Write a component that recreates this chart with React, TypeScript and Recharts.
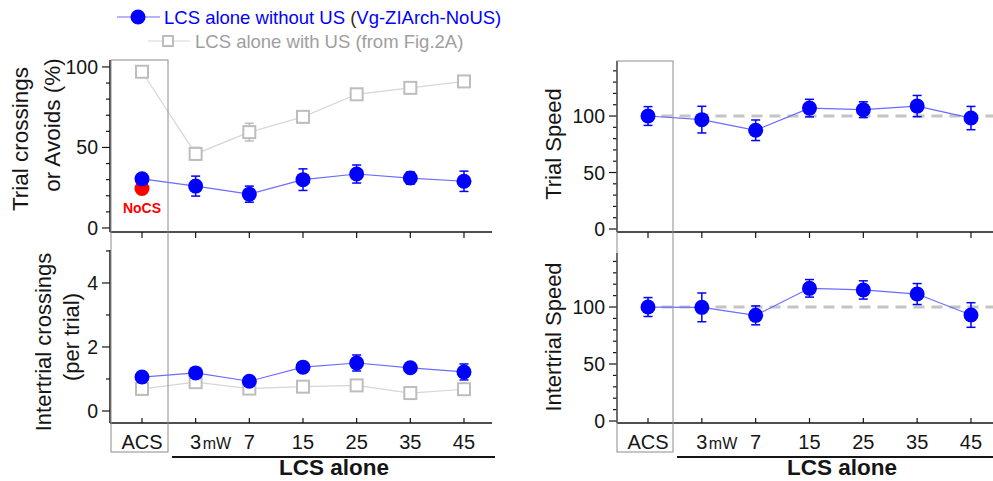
import React from "react";
import {
  ComposedChart,
  Line,
  XAxis,
  YAxis,
  ErrorBar,
  ReferenceLine,
  LabelList,
} from "recharts";

// categories along the x axis (ACS, then LCS alone at each laser power)
const categories = ["ACS", "3", "7", "15", "25", "35", "45"];
const tickUnits = ["", "mW", "", "", "", "", ""];
const xIndex = [0, 1, 2, 3, 4, 5, 6];

// Trial crossings or Avoids (%)
const trialNoUS = [30.5, 26, 21, 30, 33.5, 31, 29];
const trialNoUSErr = [3, 6.2, 5, 6.7, 5.6, 3.8, 6.3];
const trialWithUS = [97, 46, 59.5, 69, 83, 87, 91];
const trialWithUSErr = [2, 4, 5.5, 1.5, 1.5, 1.5, 1.5];
const noCSValue = 24.5;
const noCSErr = 3;

// Intertrial crossings (per trial)
const interNoUS = [1.06, 1.19, 0.93, 1.37, 1.5, 1.35, 1.22];
const interNoUSErr = [0.1, 0.15, 0.1, 0.1, 0.25, 0.1, 0.25];
const interWithUS = [0.69, 0.9, 0.7, 0.76, 0.8, 0.56, 0.68];
const interWithUSErr = [0.12, 0.1, 0.1, 0.12, 0.15, 0.12, 0.12];

// Trial Speed
const trialSpeed = [100, 96.8, 87.4, 107, 105.6, 108.8, 98.2];
const trialSpeedErr = [8.3, 11.8, 9.1, 7.8, 7, 9.4, 10.3];

// Intertrial Speed
const interSpeed = [100, 99.7, 92.7, 116.4, 115, 111.4, 93];
const interSpeedErr = [8.3, 12.6, 8.3, 7.7, 8, 9.2, 10.8];

const FONT = '"Liberation Sans", Arial, Helvetica, sans-serif';
const BLUE = "#0000ff";
const BLUE_LINE = "#6b6bff";
const GRAY = "#bdbdbd";
const GRAY_LINE = "#d6d6d6";
const RED = "#ff0000";
const INK = "#151515";

const LEFT_X: [number, number] = [-0.596, 6.522];
const RIGHT_X: [number, number] = [-0.576, 6.409];

const trialRows = xIndex.map((i) => ({
  x: i,
  noUS: trialNoUS[i],
  noUSErr: trialNoUSErr[i],
  withUS: trialWithUS[i],
  withUSErr: trialWithUSErr[i],
  noCS: i === 0 ? noCSValue : null,
  noCSErr: i === 0 ? noCSErr : null,
}));

const interRows = xIndex.map((i) => ({
  x: i,
  noUS: interNoUS[i],
  noUSErr: interNoUSErr[i],
  withUS: interWithUS[i],
  withUSErr: interWithUSErr[i],
}));

const trialSpeedRows = xIndex.map((i) => ({
  x: i,
  v: trialSpeed[i],
  e: trialSpeedErr[i],
}));

const interSpeedRows = xIndex.map((i) => ({
  x: i,
  v: interSpeed[i],
  e: interSpeedErr[i],
}));

function makeYTick(labelled: number[]) {
  return (props: any) => {
    const { x, y, payload } = props;
    const major = labelled.includes(payload.value);
    return (
      <g>
        <line x1={x} x2={x - (major ? 8 : 4)} y1={y} y2={y} stroke={INK} strokeWidth={1.2} />
        {major && (
          <text
            x={x - 12}
            y={y}
            textAnchor="end"
            dominantBaseline="central"
            fontSize={19.5}
            fontFamily={FONT}
            fill={INK}
          >
            {payload.value}
          </text>
        )}
      </g>
    );
  };
}

const TopTick = (props: any) => {
  const { x, y } = props;
  return <line x1={x} x2={x} y1={y} y2={y + 6} stroke={INK} strokeWidth={1.2} />;
};

const BottomTick = (props: any) => {
  const { x, y, payload } = props;
  const i = payload.value;
  return (
    <g>
      <line x1={x} x2={x} y1={y} y2={y - 5} stroke={INK} strokeWidth={1.2} />
      <text
        x={x}
        y={y + 19}
        textAnchor="middle"
        dominantBaseline="central"
        fontSize={20}
        fontFamily={FONT}
        fill={INK}
      >
        {categories[i]}
      </text>
      {tickUnits[i] && (
        <text
          x={x + 7}
          y={y + 20}
          textAnchor="start"
          dominantBaseline="central"
          fontSize={16}
          fontFamily={FONT}
          fill={INK}
        >
          {tickUnits[i]}
        </text>
      )}
    </g>
  );
};

const SquareDot = (props: any) => {
  const { cx, cy, index } = props;
  if (cx == null || cy == null) return <g key={`sq-${index}`} />;
  return (
    <rect
      key={`sq-${index}`}
      x={cx - 6}
      y={cy - 6}
      width={12}
      height={12}
      fill="#fff"
      stroke={GRAY}
      strokeWidth={2}
    />
  );
};

const NoCSLabel = (props: any) => {
  const { x, y, value } = props;
  if (value == null) return null;
  return (
    <text
      x={x}
      y={y + 19}
      textAnchor="middle"
      dominantBaseline="central"
      fontSize={14}
      fontWeight="bold"
      fontFamily={FONT}
      fill={RED}
    >
      NoCS
    </text>
  );
};

const blueDot = { r: 7.5, fill: BLUE, stroke: BLUE, strokeWidth: 0 };
const redDot = { r: 7.5, fill: RED, stroke: RED, strokeWidth: 0 };

export default function App() {
  return (
    <div
      style={{
        position: "absolute",
        left: 0,
        top: 0,
        width: 993,
        height: 481,
        background: "#fff",
        fontFamily: FONT,
        overflow: "hidden",
      }}
    >
      {/* top left: trial crossings */}
      <div style={{ position: "absolute", left: 0, top: 0 }}>
        <ComposedChart width={500} height={240} data={trialRows} margin={{ top: 60, right: 8, bottom: 0, left: 0 }}>
          <XAxis
            type="number"
            dataKey="x"
            domain={LEFT_X}
            allowDataOverflow
            ticks={xIndex}
            interval={0}
            height={8}
            tickSize={0}
            tickMargin={0}
            tickLine={false}
            tick={TopTick}
            axisLine={{ stroke: INK, strokeWidth: 1.5 }}
          />
          <YAxis
            type="number"
            domain={[-2.5, 104.3]}
            allowDataOverflow
            ticks={[0, 10, 20, 30, 40, 50, 60, 70, 80, 90, 100]}
            interval={0}
            width={110}
            tickSize={0}
            tickMargin={0}
            tickLine={false}
            tick={makeYTick([0, 50, 100])}
            axisLine={{ stroke: INK, strokeWidth: 1.5 }}
          />
          <Line
            dataKey="withUS"
            stroke={GRAY_LINE}
            strokeWidth={1.2}
            dot={SquareDot}
            isAnimationActive={false}
          >
            <ErrorBar dataKey="withUSErr" width={4.5} stroke={GRAY} strokeWidth={1.5} direction="y" />
          </Line>
          <Line
            dataKey="noCS"
            stroke="none"
            dot={redDot}
            isAnimationActive={false}
          >
            <ErrorBar dataKey="noCSErr" width={4.5} stroke={RED} strokeWidth={1.5} direction="y" />
            <LabelList dataKey="noCS" content={NoCSLabel} />
          </Line>
          <Line
            dataKey="noUS"
            stroke={BLUE_LINE}
            strokeWidth={1.2}
            dot={blueDot}
            isAnimationActive={false}
          >
            <ErrorBar dataKey="noUSErr" width={4.5} stroke={BLUE} strokeWidth={1.5} direction="y" />
          </Line>
        </ComposedChart>
      </div>

      {/* bottom left: intertrial crossings */}
      <div style={{ position: "absolute", left: 0, top: 240 }}>
        <ComposedChart width={500} height={241} data={interRows} margin={{ top: 10, right: 8, bottom: 0, left: 0 }}>
          <XAxis
            type="number"
            dataKey="x"
            domain={LEFT_X}
            allowDataOverflow
            ticks={xIndex}
            interval={0}
            height={58}
            tickSize={0}
            tickMargin={0}
            tickLine={false}
            tick={BottomTick}
            axisLine={{ stroke: INK, strokeWidth: 1.5 }}
          />
          <YAxis
            type="number"
            domain={[-0.375, 5.03]}
            allowDataOverflow
            ticks={[0, 1, 2, 3, 4, 5]}
            interval={0}
            width={110}
            tickSize={0}
            tickMargin={0}
            tickLine={false}
            tick={makeYTick([0, 2, 4])}
            axisLine={{ stroke: INK, strokeWidth: 1.5 }}
          />
          <Line
            dataKey="withUS"
            stroke={GRAY_LINE}
            strokeWidth={1.2}
            dot={SquareDot}
            isAnimationActive={false}
          >
            <ErrorBar dataKey="withUSErr" width={4.5} stroke={GRAY} strokeWidth={1.5} direction="y" />
          </Line>
          <Line
            dataKey="noUS"
            stroke={BLUE_LINE}
            strokeWidth={1.2}
            dot={blueDot}
            isAnimationActive={false}
          >
            <ErrorBar dataKey="noUSErr" width={4.5} stroke={BLUE} strokeWidth={1.5} direction="y" />
          </Line>
        </ComposedChart>
      </div>

      {/* top right: trial speed */}
      <div style={{ position: "absolute", left: 520, top: 0 }}>
        <ComposedChart width={473} height={240} data={trialSpeedRows} margin={{ top: 61, right: 0, bottom: 0, left: 0 }}>
          <XAxis
            type="number"
            dataKey="x"
            domain={RIGHT_X}
            allowDataOverflow
            ticks={xIndex}
            interval={0}
            height={8}
            tickSize={0}
            tickMargin={0}
            tickLine={false}
            tick={TopTick}
            axisLine={{ stroke: INK, strokeWidth: 1.5 }}
          />
          <YAxis
            type="number"
            domain={[-2.65, 148.7]}
            allowDataOverflow
            ticks={[0, 10, 20, 30, 40, 50, 60, 70, 80, 90, 100, 110, 120, 130, 140]}
            interval={0}
            width={97}
            tickSize={0}
            tickMargin={0}
            tickLine={false}
            tick={makeYTick([0, 50, 100])}
            axisLine={{ stroke: INK, strokeWidth: 1.5 }}
          />
          <ReferenceLine
            segment={[{ x: 0.25, y: 100 }, { x: RIGHT_X[1], y: 100 }]}
            stroke="#c4c4c4"
            strokeWidth={3}
            strokeDasharray="11 7"
            ifOverflow="visible"
          />
          <Line
            dataKey="v"
            stroke={BLUE_LINE}
            strokeWidth={1.2}
            dot={blueDot}
            isAnimationActive={false}
          >
            <ErrorBar dataKey="e" width={4.5} stroke={BLUE} strokeWidth={1.5} direction="y" />
          </Line>
        </ComposedChart>
      </div>

      {/* bottom right: intertrial speed */}
      <div style={{ position: "absolute", left: 520, top: 240 }}>
        <ComposedChart width={473} height={241} data={interSpeedRows} margin={{ top: 13, right: 0, bottom: 0, left: 0 }}>
          <XAxis
            type="number"
            dataKey="x"
            domain={RIGHT_X}
            allowDataOverflow
            ticks={xIndex}
            interval={0}
            height={58}
            tickSize={0}
            tickMargin={0}
            tickLine={false}
            tick={BottomTick}
            axisLine={{ stroke: INK, strokeWidth: 1.5 }}
          />
          <YAxis
            type="number"
            domain={[-1.75, 147.4]}
            allowDataOverflow
            ticks={[0, 10, 20, 30, 40, 50, 60, 70, 80, 90, 100, 110, 120, 130, 140]}
            interval={0}
            width={97}
            tickSize={0}
            tickMargin={0}
            tickLine={false}
            tick={makeYTick([0, 50, 100])}
            axisLine={{ stroke: INK, strokeWidth: 1.5 }}
          />
          <ReferenceLine
            segment={[{ x: 0.25, y: 100 }, { x: RIGHT_X[1], y: 100 }]}
            stroke="#c4c4c4"
            strokeWidth={3}
            strokeDasharray="11 7"
            ifOverflow="visible"
          />
          <Line
            dataKey="v"
            stroke={BLUE_LINE}
            strokeWidth={1.2}
            dot={blueDot}
            isAnimationActive={false}
          >
            <ErrorBar dataKey="e" width={4.5} stroke={BLUE} strokeWidth={1.5} direction="y" />
          </Line>
        </ComposedChart>
      </div>

      {/* decorations: legend, ACS boxes, group labels, axis titles */}
      <svg
        width={993}
        height={481}
        style={{ position: "absolute", left: 0, top: 0, pointerEvents: "none" }}
        fontFamily={FONT}
      >
        <line x1={117} x2={160} y1={17} y2={17} stroke={BLUE_LINE} strokeWidth={1.2} />
        <circle cx={138} cy={17} r={7.5} fill={BLUE} />
        <text x={164} y={17} dominantBaseline="central" fontSize={18.5} fill={BLUE}>
          LCS alone without US <tspan fill="#3b2a10">(</tspan>Vg-ZIArch-NoUS)
        </text>
        <line x1={148} x2={190} y1={41} y2={41} stroke={GRAY_LINE} strokeWidth={1.2} />
        <rect x={163} y={36} width={10} height={10} fill="#fff" stroke={GRAY} strokeWidth={2} />
        <text x={195} y={41} dominantBaseline="central" fontSize={18.5} fill="#9e9e9e">
          LCS alone with US (from Fig.2A)
        </text>

        <rect x={111} y={60} width={57} height={392} fill="none" stroke="#8c8c8c" strokeWidth={1} />
        <rect x={617} y={61} width={56} height={391} fill="none" stroke="#8c8c8c" strokeWidth={1} />

        <line x1={172} x2={495} y1={457} y2={457} stroke={INK} strokeWidth={2} />
        <text x={334} y={467} textAnchor="middle" dominantBaseline="central" fontSize={22.5} fontWeight="bold" fill={INK}>
          LCS alone
        </text>
        <line x1={677} x2={993} y1={457} y2={457} stroke={INK} strokeWidth={2} />
        <text x={842} y={467} textAnchor="middle" dominantBaseline="central" fontSize={22.5} fontWeight="bold" fill={INK}>
          LCS alone
        </text>

        <text transform="translate(20,139) rotate(-90)" textAnchor="middle" dominantBaseline="central" fontSize={22.5} fill={INK}>
          Trial crossings
        </text>
        <text transform="translate(52,125) rotate(-90)" textAnchor="middle" dominantBaseline="central" fontSize={22.5} fill={INK}>
          or Avoids (%)
        </text>
        <text transform="translate(43,342) rotate(-90)" textAnchor="middle" dominantBaseline="central" fontSize={22} fill={INK}>
          Intertrial crossings
        </text>
        <text transform="translate(71,337) rotate(-90)" textAnchor="middle" dominantBaseline="central" fontSize={22} fill={INK}>
          (per trial)
        </text>
        <text transform="translate(553,144) rotate(-90)" textAnchor="middle" dominantBaseline="central" fontSize={22} fill={INK}>
          Trial Speed
        </text>
        <text transform="translate(553,337) rotate(-90)" textAnchor="middle" dominantBaseline="central" fontSize={22} fill={INK}>
          Intertrial Speed
        </text>
      </svg>
    </div>
  );
}
